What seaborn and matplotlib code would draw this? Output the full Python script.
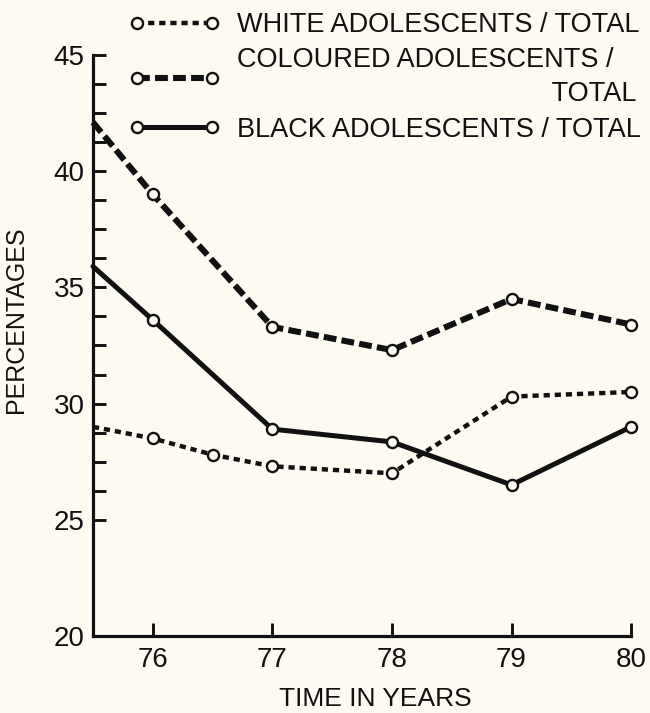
import matplotlib
matplotlib.use("Agg")
import matplotlib.pyplot as plt
from matplotlib.ticker import FixedLocator
import numpy as np
import seaborn as sns

# values (first point sits on the y axis, no marker)
years_white = [75.5, 76, 76.5, 77, 78, 79, 80]
white = [29.0, 28.5, 27.8, 27.3, 27.0, 30.3, 30.5]

years = [75.5, 76, 77, 78, 79, 80]
coloured = [42.1, 39.0, 33.3, 32.3, 34.5, 33.4]
black = [35.9, 33.6, 28.9, 28.35, 26.5, 29.0]

labels = ["WHITE ADOLESCENTS / TOTAL",
          "COLOURED ADOLESCENTS /\n" + " " * 42 + "TOTAL",
          "BLACK ADOLESCENTS / TOTAL"]
x_ticks = [76, 77, 78, 79, 80]
y_ticks = [20, 25, 30, 35, 40, 45]

bg = "#fdfbf1"
ink = "#111111"

sns.set_style("ticks")
plt.rcParams["font.family"] = ["Liberation Sans", "DejaVu Sans"]

fig = plt.figure(figsize=(6.5, 7.13), dpi=100, facecolor=bg)
ax = fig.add_axes([0.143, 0.108, 0.828, 0.815], facecolor=bg)

mk = dict(marker="o", markersize=8, markerfacecolor=bg, markeredgecolor=ink,
          markeredgewidth=1.7, color=ink, clip_on=False)

sns.lineplot(x=years_white, y=white, ax=ax, linewidth=3.2,
             linestyle=(0, (1.4, 1.1)), markevery=list(range(1, 7)),
             label=labels[0], **mk)
sns.lineplot(x=years, y=coloured, ax=ax, linewidth=4.4,
             linestyle=(0, (2.1, 0.85)), markevery=list(range(1, 6)),
             label=labels[1], **mk)
sns.lineplot(x=years, y=black, ax=ax, linewidth=3.6,
             linestyle="-", markevery=list(range(1, 6)),
             label=labels[2], **mk)

ax.set_xlim(75.5, 80)
ax.set_ylim(20, 45)
ax.set_xticks(x_ticks)
ax.set_yticks(y_ticks)
minor = [v for v in np.arange(25, 45, 1.25) if v % 5 != 0]
ax.yaxis.set_minor_locator(FixedLocator(minor))

sns.despine(ax=ax)
for s in ("left", "bottom"):
    ax.spines[s].set_linewidth(2.3)
    ax.spines[s].set_color(ink)

ax.tick_params(axis="both", which="both", direction="in", length=9.5,
               width=2.1, color=ink, labelsize=20, labelcolor=ink)
ax.tick_params(axis="y", pad=6)
ax.tick_params(axis="x", pad=8)

ax.set_xlabel("TIME IN YEARS", fontsize=19, color=ink)
ax.set_ylabel("PERCENTAGES", fontsize=18, color=ink)
ax.xaxis.set_label_coords(0.525, -0.088)
ax.yaxis.set_label_coords(-0.12, 0.545)

leg = ax.legend(loc="upper left", bbox_to_anchor=(129 / 650, 1 - 12 / 713),
                bbox_transform=fig.transFigure, frameon=False, fontsize=19.5,
                numpoints=2, handlelength=3.37, handletextpad=0.6,
                labelspacing=0.35, borderpad=0, borderaxespad=0)
for t in leg.get_texts():
    t.set_color(ink)
    t.set_linespacing(1.38)

fig.savefig("out.png", dpi=100, facecolor=bg)
